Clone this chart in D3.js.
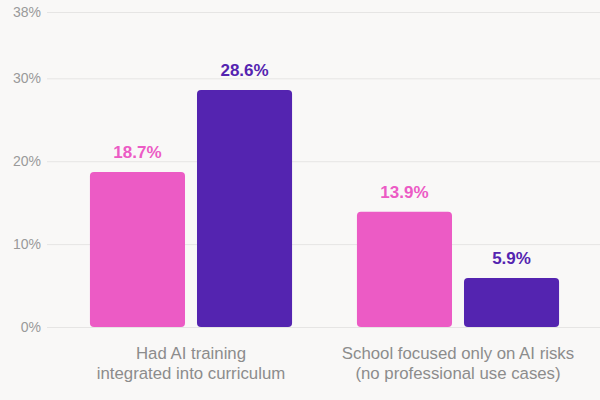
<!DOCTYPE html>
<html>
<head>
<meta charset="utf-8">
<script src="https://cdn.jsdelivr.net/npm/d3@7"></script>
<style>
  body { margin: 0; background: #f9f8f7; }
  svg { display: block; font-family: "Liberation Sans", Arial, Helvetica, sans-serif; }
</style>
</head>
<body>
<svg id="chart" width="600" height="400"></svg>
<script>
const categories = [
  ["Had AI training", "integrated into curriculum"],
  ["School focused only on AI risks", "(no professional use cases)"],
];
const seriesNames = ["a", "b"];
const seriesA = [18.7, 13.9];
const seriesB = [28.6, 5.9];
const tickValues = [0, 10, 20, 30, 38];
const colors = { a: "#ec5bc5", b: "#5424b0" };

const margin = { top: 12, bottom: 73, left: 47, right: 0 };
const W = 600, H = 400;
const svg = d3.select("#chart");

const data = categories.map((c, i) => ({
  key: i,
  lines: c,
  values: [
    { s: "a", v: seriesA[i] },
    { s: "b", v: seriesB[i] },
  ],
}));

const y = d3.scaleLinear().domain([0, 38]).range([H - margin.bottom, margin.top]);
const x0 = d3.scaleBand().domain(data.map((d) => d.key)).range([57.5, 591.5])
  .paddingInner(0.243).paddingOuter(0.1215);
const x1 = d3.scaleBand().domain(seriesNames).range([0, x0.bandwidth()]).paddingInner(0.112);

// grid + y labels
const grid = svg.append("g").attr("class", "grid");
grid.selectAll("line").data(tickValues).join("line")
  .attr("x1", margin.left).attr("x2", W)
  .attr("y1", (d) => y(d) + 0.5).attr("y2", (d) => y(d) + 0.5)
  .attr("stroke", "#e6e5e4").attr("stroke-width", 1);
grid.selectAll("text").data(tickValues).join("text")
  .attr("x", 41).attr("y", (d) => y(d) + 5)
  .attr("text-anchor", "end")
  .attr("font-size", 14).attr("fill", "#9a9a9a")
  .text((d) => d + "%");

const groups = svg.selectAll(".group").data(data).join("g")
  .attr("class", "group")
  .attr("transform", (d) => `translate(${x0(d.key)},0)`);

groups.selectAll("rect").data((d) => d.values).join("rect")
  .attr("x", (d) => x1(d.s))
  .attr("y", (d) => y(d.v))
  .attr("width", x1.bandwidth())
  .attr("height", (d) => y(0) - y(d.v))
  .attr("rx", 4)
  .attr("fill", (d) => colors[d.s]);

groups.selectAll(".val").data((d) => d.values).join("text")
  .attr("class", "val")
  .attr("x", (d) => x1(d.s) + x1.bandwidth() / 2)
  .attr("y", (d) => y(d.v) - 14)
  .attr("text-anchor", "middle")
  .attr("font-size", 17).attr("font-weight", "bold")
  .attr("fill", (d) => colors[d.s])
  .text((d) => d.v.toFixed(1) + "%");

groups.append("text")
  .attr("class", "cat")
  .attr("text-anchor", "middle")
  .attr("font-size", 16.8).attr("fill", "#8c8c8c")
  .selectAll("tspan").data((d) => d.lines).join("tspan")
  .attr("x", x0.bandwidth() / 2)
  .attr("y", (d, i) => 359 + i * 20)
  .text((d) => d);
</script>
</body>
</html>
